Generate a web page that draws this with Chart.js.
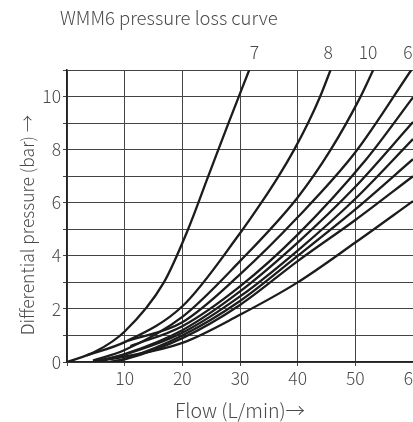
<!DOCTYPE html>
<html>
<head>
<meta charset="utf-8">
<script src="https://cdn.jsdelivr.net/npm/chart.js@4/dist/chart.umd.min.js"></script>
<style>
html, body { margin: 0; padding: 0; background: #fff; overflow: hidden; }
#wrap { width: 413px; height: 422px; overflow: hidden; }
canvas { display: block; }
</style>
</head>
<body>
<div id="wrap"><canvas id="lossChart" width="440" height="422"></canvas></div>
<script>
// ============ Data ============
const chartTitle = 'WMM6 pressure loss curve';
const xTitle = 'Flow (L/min)\u2192';
const yTitle = 'Differential pressure (bar) \u2192';

// curves in order from steepest to flattest
const curveNames = ['7', '8', '10', '6', 'c5', 'c6', 'c7', 'c8', 'c9', 'c10'];

const flow7 = [0, 5, 10, 16.8, 21, 24.5, 28, 31.6];
const dp7   = [0, 0.4, 1.15, 3, 5, 7, 9, 11];

const flow8 = [3.4, 10, 20, 30, 33.7, 36.7, 39.4, 41.8, 43.9, 45.7];
const dp8   = [0.25, 0.75, 2.1, 4.85, 6, 7, 8, 9, 10, 11];

const flow10 = [4.5, 10, 20, 30, 40, 45.6, 50.8, 53.1];
const dp10   = [0.05, 0.45, 1.7, 3.8, 6.2, 7.95, 9.95, 11];

const flow6 = [10.6, 20, 30, 40, 50, 59.7];
const dp6   = [0.8, 1.5, 3.3, 5.45, 7.9, 11];

const flowC5 = [11, 20, 30, 40, 51.9, 60];
const dpC5   = [0.6, 1.35, 2.85, 4.8, 7.64, 9.97];

const flowC6 = [4.5, 10, 20, 30, 40, 50, 60];
const dpC6   = [0, 0.3, 1.2, 2.66, 4.5, 6.6, 9.04];

const flowC7 = [4.5, 10, 20, 30, 40, 50, 60];
const dpC7   = [0, 0.28, 1.1, 2.47, 4.2, 6.15, 8.4];

const flowC8 = [7.5, 10, 20, 30, 40, 50, 60];
const dpC8   = [0, 0.12, 1.0, 2.3, 4.0, 5.75, 7.64];

const flowC9 = [7.5, 10, 20, 30, 40, 50, 60];
const dpC9   = [0, 0.1, 0.9, 2.15, 3.8, 5.35, 7.0];

const flowC10 = [4.5, 10, 20, 30, 40, 50, 60];
const dpC10   = [0, 0.2, 0.72, 1.78, 3.0, 4.5, 6.06];

const curveFlows = [flow7, flow8, flow10, flow6, flowC5, flowC6, flowC7, flowC8, flowC9, flowC10];
const curveDps   = [dp7, dp8, dp10, dp6, dpC5, dpC6, dpC7, dpC8, dpC9, dpC10];

// labels along the top edge, near the flow where each curve leaves the plot
const topTickFlow   = [32.5, 45.3, 52.2, 59.1];
const topTickLabels = ['7', '8', '10', '6'];

const xTickLabels = [10, 20, 30, 40, 50, 60];
const yTickLabels = [0, 2, 4, 6, 8, 10];

// ============ Style ============
const FONT = '"Noto Sans CJK SC", "Noto Sans", sans-serif';
const TEXT_COLOR = '#4a4a4a';
const GRID_COLOR = '#444';
const LINE_COLOR = '#1c1c1c';
const TICK_FONT = { family: FONT, size: 17.5, weight: 300 };

const datasets = curveNames.map((name, i) => ({
    label: name,
    data: curveFlows[i].map((x, j) => ({ x, y: curveDps[i][j] })),
    borderColor: LINE_COLOR,
    borderWidth: 2.3,
    pointRadius: 0,
    fill: false,
    cubicInterpolationMode: 'monotone'
}));

// chart title and the rotated y title are drawn by hand so they sit where the original has them
const titlePlugin = {
    id: 'plotTitles',
    afterDraw(chart) {
        const { ctx, chartArea } = chart;
        ctx.save();
        ctx.fillStyle = TEXT_COLOR;
        ctx.textBaseline = 'middle';
        ctx.font = '300 18.5px ' + FONT;
        ctx.textAlign = 'left';
        ctx.fillText(chartTitle, chartArea.left - 7, 18);

        ctx.font = '300 17.5px ' + FONT;
        ctx.textAlign = 'center';
        ctx.translate(27, 225);
        ctx.rotate(-Math.PI / 2);
        ctx.fillText(yTitle, 0, 0);
        ctx.restore();
    }
};

new Chart(document.getElementById('lossChart'), {
    type: 'line',
    data: { datasets },
    plugins: [titlePlugin],
    options: {
        responsive: false,
        animation: false,
        layout: { padding: { top: 35, right: 27, left: 0, bottom: 0 } },
        plugins: { legend: { display: false }, tooltip: { enabled: false } },
        scales: {
            x: {
                type: 'linear',
                position: 'bottom',
                min: 0,
                max: 60,
                ticks: {
                    stepSize: 10,
                    color: TEXT_COLOR,
                    font: TICK_FONT,
                    padding: 2,
                    maxRotation: 0,
                    callback: v => xTickLabels.includes(v) ? String(v) : ''
                },
                grid: { color: GRID_COLOR, tickLength: 4 },
                border: { color: '#222', width: 1.5 },
                title: {
                    display: true,
                    text: xTitle,
                    color: TEXT_COLOR,
                    font: { family: FONT, size: 19.5, weight: 300 },
                    padding: { top: 0, bottom: 0 }
                },
                afterFit: axis => { axis.height = 60; }
            },
            x2: {
                type: 'linear',
                position: 'top',
                min: 0,
                max: 60,
                afterBuildTicks: axis => { axis.ticks = topTickFlow.map(v => ({ value: v })); },
                ticks: {
                    autoSkip: false,
                    maxRotation: 0,
                    color: TEXT_COLOR,
                    font: TICK_FONT,
                    padding: 7,
                    callback: (v, i) => topTickLabels[i]
                },
                grid: { display: false, drawTicks: false },
                border: { color: GRID_COLOR, width: 1 }
            },
            y: {
                min: 0,
                max: 11,
                ticks: {
                    stepSize: 1,
                    color: TEXT_COLOR,
                    font: TICK_FONT,
                    padding: 2,
                    callback: v => yTickLabels.includes(v) ? String(v) : ''
                },
                grid: { color: GRID_COLOR, tickLength: 4 },
                border: { color: '#222', width: 1.5 },
                title: { display: false },
                afterFit: axis => { axis.width = 67; }
            }
        }
    }
});
</script>
</body>
</html>
